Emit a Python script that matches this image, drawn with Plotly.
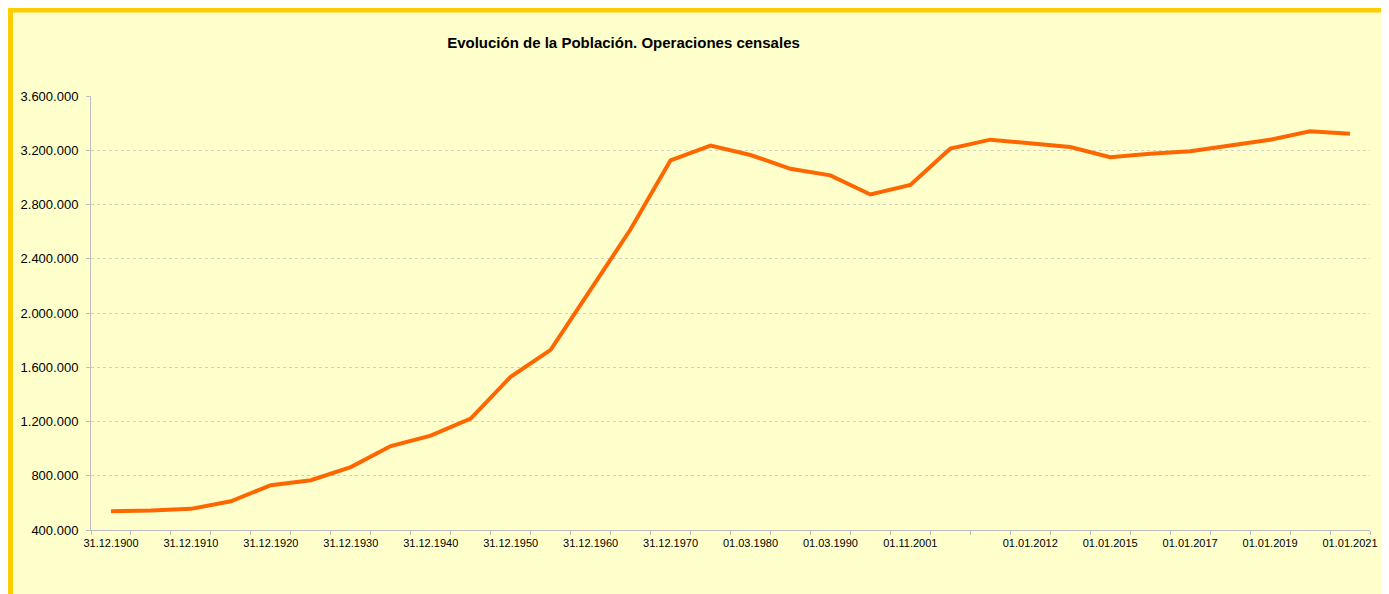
import plotly.graph_objects as go

# ---- data ----
tick_labels = [
    "31.12.1900", "", "31.12.1910", "", "31.12.1920", "", "31.12.1930", "",
    "31.12.1940", "", "31.12.1950", "", "31.12.1960", "", "31.12.1970", "",
    "01.03.1980", "", "01.03.1990", "", "01.11.2001", "", "", "01.01.2012",
    "", "01.01.2015", "", "01.01.2017", "", "01.01.2019", "", "01.01.2021",
]
population = [
    538000, 543000, 556000, 612000, 730000, 767000, 864000, 1019000,
    1096000, 1222000, 1530000, 1728000, 2172000, 2617000, 3126000, 3234000,
    3165000, 3063000, 3015000, 2874000, 2944000, 3213000, 3278000, 3249000,
    3224000, 3148000, 3175000, 3192000, 3232000, 3278000, 3340000, 3321000,
]
y_ticks = [400000, 800000, 1200000, 1600000, 2000000, 2400000, 2800000, 3200000, 3600000]
title_text = "Evolución de la Población. Operaciones censales"

# page has an 8px body margin, so the figure is 8px smaller than the window
W, H = 1381, 586
L, R, T, B = 83, 19, 88, 64
pw, ph = W - L - R, H - T - B

x_idx = list(range(len(population)))
label_idx = [i for i, t in enumerate(tick_labels) if t]
label_txt = [tick_labels[i] for i in label_idx]
boundaries = [i - 0.5 for i in range(len(population) + 1)]

FONT = "Liberation Sans, Arial, sans-serif"
AXIS_GREY = "#BDBDBD"

fig = go.Figure()
fig.add_trace(go.Scatter(
    x=x_idx, y=population, mode="lines",
    line=dict(color="#FF6600", width=4),
    hoverinfo="skip", showlegend=False,
))

def px_x(p):
    return (p - L) / pw

def px_y(p):
    return (H - B - p) / ph

# chart frame: light yellow fill with gold border
fig.add_shape(
    type="rect", xref="paper", yref="paper", layer="below",
    x0=px_x(2.5), x1=px_x(1378.5), y0=px_y(640), y1=px_y(2.0),
    fillcolor="#FFFFCC", line=dict(color="#FFCC00", width=5),
)

fig.update_layout(
    width=W, height=H,
    margin=dict(l=L, r=R, t=T, b=B),
    paper_bgcolor="white",
    plot_bgcolor="rgba(0,0,0,0)",
    separators=",.",
    font=dict(family=FONT, color="black"),
    title=dict(
        text="<b>" + title_text + "</b>",
        x=615.5 / W, xref="container", xanchor="center",
        y=1 - 35 / H, yref="container", yanchor="middle",
        font=dict(size=15, family=FONT, color="black"),
    ),
    xaxis=dict(
        range=[-0.5, len(population) - 0.5],
        tickmode="array", tickvals=label_idx, ticktext=label_txt,
        ticks="", ticklabelstandoff=3,
        tickfont=dict(size=11, family=FONT, color="black"),
        showgrid=False, zeroline=False,
        showline=True, linecolor=AXIS_GREY, linewidth=1,
        minor=dict(tickmode="array", tickvals=boundaries, ticks="outside",
                   ticklen=4, tickcolor=AXIS_GREY, showgrid=False),
        fixedrange=True,
    ),
    yaxis=dict(
        range=[400000, 3600000],
        tickmode="array", tickvals=y_ticks, tickformat=",d",
        ticks="outside", ticklen=4, tickcolor=AXIS_GREY, ticklabelstandoff=5,
        tickfont=dict(size=13, family=FONT, color="black"),
        showgrid=True, gridcolor="#CFCFCF", griddash="dot", gridwidth=1,
        zeroline=False, showline=True, linecolor=AXIS_GREY, linewidth=1,
        fixedrange=True,
    ),
)

fig.write_html("out.html")
